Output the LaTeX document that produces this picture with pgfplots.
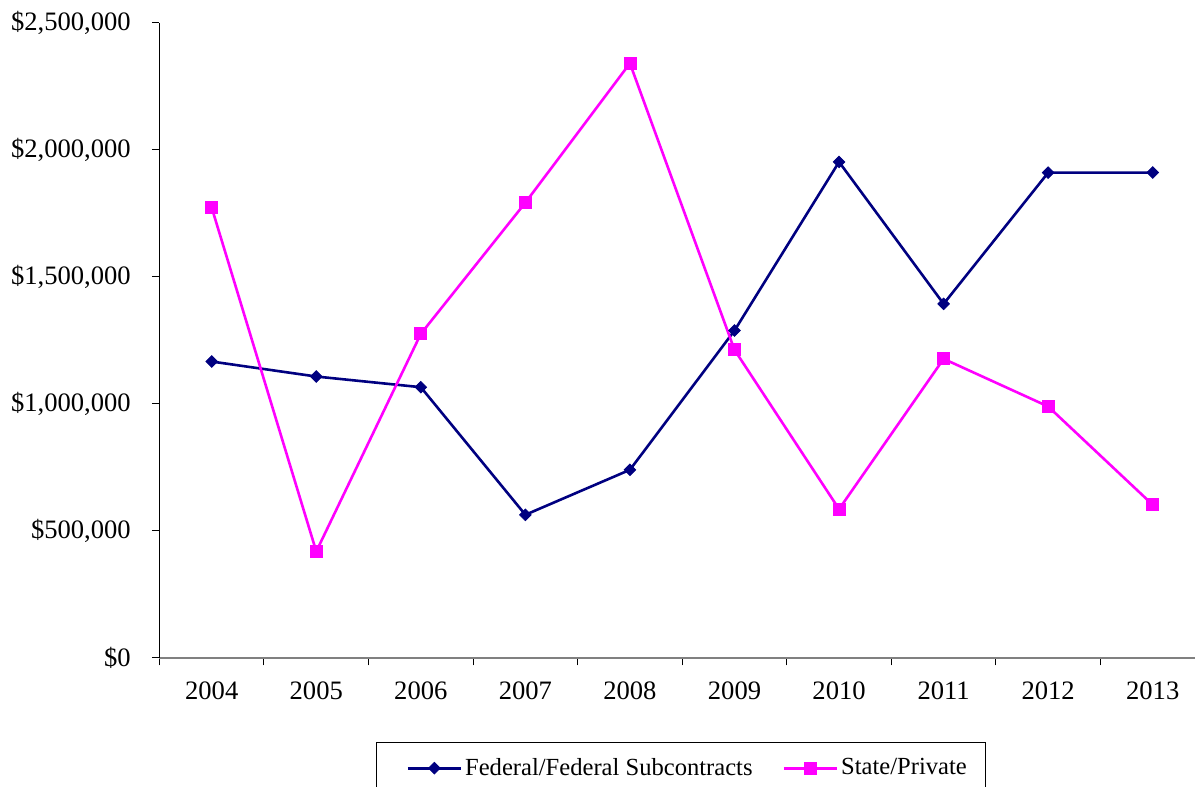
\documentclass[border=0pt]{standalone}
\usepackage{pgfplots}
\pgfplotsset{compat=1.18}
\usepackage{fontspec}
\setmainfont{Liberation Serif}
\definecolor{fed}{RGB}{0,0,128}
\definecolor{st}{RGB}{255,0,255}
\definecolor{axgray}{RGB}{128,128,128}
\begin{document}
\begin{tikzpicture}
\begin{axis}[
  name=ax,
  scale only axis,
  width=523pt, height=317.65pt,
  xmin=-0.5, xmax=9.5, ymin=0, ymax=2500000,
  axis x line*=bottom, axis y line*=left,
  x axis line style={-, draw=axgray, line width=1pt},
  y axis line style={-, draw=black, line width=0.5pt},
  tick align=outside,
  xtick={0,...,9},
  xticklabels={2004,2005,2006,2007,2008,2009,2010,2011,2012,2013},
  major x tick style={draw=none},
  minor xtick={-0.5,0.5,...,9.5},
  minor x tick style={draw=black, line width=0.5pt},
  minor tick length=3.8pt,
  ytick={0,500000,1000000,1500000,2000000,2500000},
  yticklabels={\$0,{\$500,000},{\$1,000,000},{\$1,500,000},{\$2,000,000},{\$2,500,000}},
  scaled y ticks=false,
  major y tick style={draw=black, line width=0.5pt},
  major tick length=3.8pt,
  tick label style={font=\fontsize{13.3}{15}\selectfont, text=black},
  yticklabel style={xshift=-7pt},
  xticklabel style={yshift=-4.5pt},
  legend style={
    at={(0.2072,-0.1322)}, anchor=north west,
    legend columns=2,
    draw=black, line width=0.5pt,
    font=\fontsize{12.3}{14}\selectfont,
    inner xsep=15pt, inner ysep=8pt,
    nodes={inner sep=0pt},
    /tikz/every odd column/.style={column sep=1.5pt},
    /tikz/every even column/.style={column sep=15pt},
  },
  legend image code/.code={
    \draw[mark repeat=2,mark phase=2] plot coordinates {(0pt,0pt) (13.25pt,0pt) (26.5pt,0pt)};
  },
]
\addplot[fed, line width=1.3pt, mark=square*, mark size=2.05pt,
  mark options={rotate=45, solid, fill=fed, draw=fed, line width=0.4pt}]
  coordinates {(0,1166000) (1,1107000) (2,1065000) (3,562700) (4,739800)
               (5,1288000) (6,1951800) (7,1393000) (8,1909700) (9,1910000)};
\addlegendentry{Federal/Federal Subcontracts}
\addplot[st, line width=1.3pt, mark=square*, mark size=3pt,
  mark options={solid, fill=st, draw=st, line width=0.4pt}]
  coordinates {(0,1772000) (1,418300) (2,1275000) (3,1791600) (4,2340000)
               (5,1212000) (6,585000) (7,1176600) (8,989000) (9,602000)};
\addlegendentry{State/Private\hspace*{-5.5pt}}
\end{axis}
\pgfresetboundingbox
\path ([xshift=-79.75pt,yshift=-64.5pt]ax.south west) rectangle ([xshift=-5pt,yshift=11.35pt]ax.north east);
\end{tikzpicture}
\end{document}
